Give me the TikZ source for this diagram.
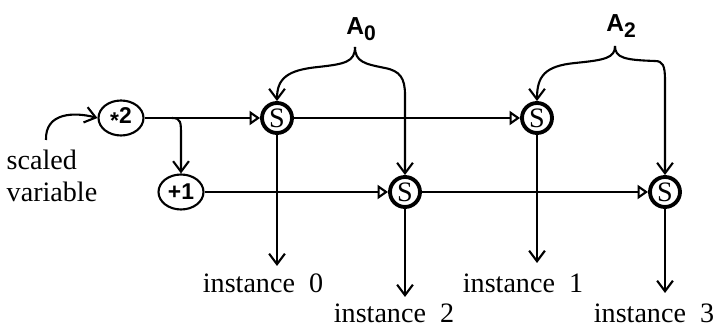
\documentclass[tikz,border=0pt]{standalone}
\usepackage{fontspec}
\setmainfont{Liberation Serif}
\setsansfont{Liberation Sans}
\usepackage{tikz}
\usetikzlibrary{shapes.geometric, arrows.meta}
\usetikzlibrary{calc,positioning}

\tikzset{
  op/.style={draw, ellipse, line width=1.2pt, inner sep=0pt,
    minimum width=0.9cm, minimum height=0.7cm,
    font=\sffamily\bfseries\fontsize{13}{13}\selectfont},
  sel/.style={draw, circle, line width=2.2pt, inner sep=0pt,
    minimum size=0.6cm, font=\fontsize{16}{16}\selectfont},
  wire/.style={line width=1.2pt},
  feed/.style={wire, -{Triangle[open, length=6pt, width=8pt]}},
  barb/.style={wire, -{Straight Barb[length=6pt, width=9pt]}},
  lbl/.style={font=\fontsize{16}{18}\selectfont},
  alab/.style={font=\sffamily\bfseries\fontsize{14}{14}\selectfont},
}

\begin{document}
\begin{tikzpicture}[x=0.02cm, y=-0.02cm]
    \useasboundingbox (0,0) rectangle (714,330);

    % Eingang
    \node[lbl, align=left] (sv) at (52,176) {scaled\\variable};
    \node[op] (times) at (121,118) {\raisebox{-0.4ex}{*}2};
    \node[op] (plus) at (181,192) {+1};

    % Selektoren
    \node[sel] (S1) at (277,118) {S};
    \node[sel] (S2) at (405,192) {S};
    \node[sel] (S3) at (537,118) {S};
    \node[sel] (S4) at (665,192) {S};

    % Klammern
    \node[alab] (A0) at (361,29) {A\raisebox{-0.45ex}{\fontsize{12}{12}\selectfont 0}};
    \node[alab] (A2) at (621,26) {A\raisebox{-0.45ex}{\fontsize{12}{12}\selectfont 2}};
    \coordinate (t0) at (355,47);
    \coordinate (t2) at (615,46);

    % Ausgaenge
    \node[lbl, anchor=base] (i0) at (263,293) {instance\enspace 0};
    \node[lbl, anchor=base] (i1) at (523,293) {instance\enspace 1};
    \node[lbl, anchor=base] (i2) at (394,323) {instance\enspace 2};
    \node[lbl, anchor=base] (i3) at (654,323) {instance\enspace 3};
    \coordinate (d0) at (277,266);
    \coordinate (d1) at (537,263);
    \coordinate (d2) at (405,297);
    \coordinate (d3) at (665,293);

    \coordinate (svtop) at (46,140);
    \coordinate (br) at (172,118);

    % Verbindungen
    \draw[barb] (svtop) .. controls (45,112) and (75,112) .. (times.west);
    \draw[feed] (times.east) -- (S1.west);
    \draw[barb] (br) .. controls (181,118) and (181,122) .. (181,136) -- (plus.north);
    \draw[feed] (plus.east) -- (S2.west);
    \draw[feed] (S1.east) -- (S3.west);
    \draw[feed] (S2.east) -- (S4.west);

    \draw[barb] (S1.south) -- (d0);
    \draw[barb] (S2.south) -- (d2);
    \draw[barb] (S3.south) -- (d1);
    \draw[barb] (S4.south) -- (d3);

    \draw[barb] (t0) .. controls (355,62) and (345,64) .. (318,67)
      .. controls (288,70) and (277,78) .. (S1.north);
    \draw[barb] (t0) .. controls (355,62) and (365,64) .. (385,68)
      .. controls (400,71) and (405,78) .. (405,95) -- (S2.north);
    \draw[barb] (t2) .. controls (615,58) and (605,60) .. (575,63)
      .. controls (545,66) and (537,76) .. (S3.north);
    \draw[barb] (t2) .. controls (615,58) and (625,60) .. (655,61)
      .. controls (663,61) and (665,66) .. (665,80) -- (S4.north);

\end{tikzpicture}
\end{document}
